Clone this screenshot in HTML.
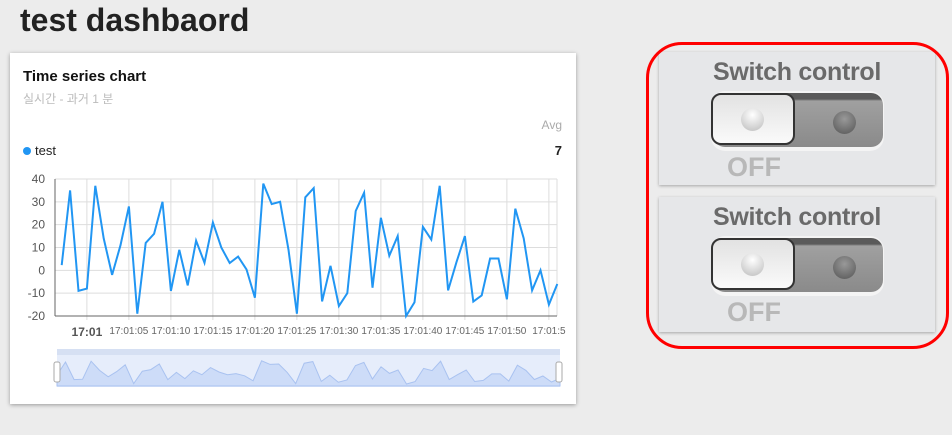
<!DOCTYPE html>
<html><head><meta charset="utf-8"><style>
body{margin:0;width:952px;height:435px;background:#ececec;font-family:"Liberation Sans","Noto Sans CJK KR",sans-serif;position:relative;overflow:hidden}
.abs{position:absolute}
.card{left:10px;top:53px;width:566px;height:351px;background:#fff;box-shadow:0 1px 4px rgba(0,0,0,.35)}
.panel{background:#e6e7e9;box-shadow:0 1px 3px rgba(0,0,0,.3);width:276px;left:659px}
.ptitle{position:absolute;left:0;width:100%;text-align:center;font-size:25px;color:#6a6a6a;top:6px;font-weight:bold;letter-spacing:-0.3px}
.sw{position:absolute;left:52px;top:39px;width:173px;height:60px;border-radius:14px;background:#f4f4f4}
.track{position:absolute;left:2px;top:2px;width:170px;height:54px;border-radius:12px;background:linear-gradient(#5a5a5a 0 6px,#a0a0a0 8px,#8a8a8a)}
.knob{position:absolute;left:0;top:2px;width:84px;height:52px;border-radius:10px;background:linear-gradient(#e2e2e2,#fafafa);border:2px solid #333;box-sizing:border-box}
.dot{position:absolute;width:23px;height:23px;border-radius:50%}
.off{position:absolute;left:68px;font-size:27px;color:#b8b8b8;font-weight:bold}
</style></head><body>
<div class="abs" style="left:20px;top:2px;font-size:32px;font-weight:bold;color:#222">test dashbaord</div>
<div class="abs card">
 <div class="abs" style="left:13px;top:15px;font-size:15px;color:#111;font-weight:bold">Time series chart</div>
 <div class="abs" style="left:13px;top:37px;font-size:12px;color:#bbb">실시간 - 과거 1 분</div>
 <div class="abs" style="right:14px;top:65px;font-size:12px;color:#aaa">Avg</div>
 <div class="abs" style="left:13px;top:90px;font-size:13px;color:#222"><span style="display:inline-block;width:8px;height:8px;border-radius:50%;background:#2196f3;margin-right:4px"></span>test</div>
 <div class="abs" style="right:14px;top:90px;font-size:13px;font-weight:bold;color:#222">7</div>
</div>
<svg class="abs" style="left:0;top:0" width="952" height="435">
 <g id="grid"></g><g id="axes"></g><path id="line" fill="none" stroke="#2196f3" stroke-width="2"/>
 <g id="nav"></g>
</svg>
<div class="abs panel" style="top:52px;height:133px">
 <div class="ptitle">Switch control</div>
 <div class="sw"><div class="track"><div class="dot" style="left:120px;top:18px;background:radial-gradient(circle at 50% 35%,#999,#555)"></div></div><div class="knob"><div class="dot" style="left:28px;top:13px;background:radial-gradient(circle at 50% 30%,#fff,#bbb)"></div></div></div>
 <div class="off" style="top:100px">OFF</div>
</div>
<div class="abs panel" style="top:197px;height:135px">
 <div class="ptitle">Switch control</div>
 <div class="sw"><div class="track"><div class="dot" style="left:120px;top:18px;background:radial-gradient(circle at 50% 35%,#999,#555)"></div></div><div class="knob"><div class="dot" style="left:28px;top:13px;background:radial-gradient(circle at 50% 30%,#fff,#bbb)"></div></div></div>
 <div class="off" style="top:100px">OFF</div>
</div>
<div class="abs" style="left:646px;top:42px;width:297px;height:301px;border:3px solid #f00;border-radius:36px"></div>
<script>
const values=[2.3,35,-9,-8,37,14,-2,11,28,-19,12,16,30,-9,9,-6.6,13,3.3,21,10,3.2,6,0.4,-12,38,29,30,9,-19,32,36,-13.6,2,-15.6,-10,26,34,-7.6,23,6.4,15,-20,-14,19,13.5,37,-8.8,3.6,15,-13.7,-11,5.2,5.2,-12.7,27,14,-8.8,0,-15,-6];
const yTicks=[40,30,20,10,0,-10,-20];
const xTickSec=[5,10,15,20,25,30,35,40,45,50,55];
const xTickLabels=["17:01:05","17:01:10","17:01:15","17:01:20","17:01:25","17:01:30","17:01:35","17:01:40","17:01:45","17:01:50","17:01:5"];
const NS='http://www.w3.org/2000/svg';
const x=i=>61.7+i*8.4;
const xs=s=>x(s+3);
const y=v=>179+(40-v)*137/60;
function mk(t,a,p){const e=document.createElementNS(NS,t);for(const k in a)e.setAttribute(k,a[k]);p.appendChild(e);return e;}
const grid=document.getElementById('grid'),axes=document.getElementById('axes');
yTicks.forEach(v=>{
 const l=mk('line',{x1:55,x2:557,y1:y(v),y2:y(v),stroke:'#ddd'},grid);
 
 
 const t=mk('text',{x:45,y:y(v)+4,'text-anchor':'end','font-size':12,fill:'#555'},axes);t.textContent=v;
 
 
});
[0].concat(xTickSec).forEach(s=>{mk('line',{x1:xs(s),x2:xs(s),y1:179,y2:320,stroke:'#ddd'},grid);});
mk('line',{x1:557,x2:557,y1:179,y2:316,stroke:'#ddd'},grid);
mk('line',{x1:55,x2:55,y1:179,y2:316,stroke:'#666'},axes);
mk('line',{x1:55,x2:557,y1:316,y2:316,stroke:'#666'},axes);
let t0=mk('text',{x:xs(0),y:336,'text-anchor':'middle','font-size':12,'font-weight':'bold',fill:'#555'},axes);t0.textContent='17:01';


xTickSec.forEach((s,i)=>{const t=mk('text',{x:xs(s),y:334,'text-anchor':'middle','font-size':10,fill:'#666'},axes);t.textContent=xTickLabels[i];
 
 });
document.getElementById('line').setAttribute('d',values.map((v,i)=>(i?'L':'M')+x(i).toFixed(1)+','+y(v).toFixed(1)).join(''));
const nav=document.getElementById('nav');
const nx=i=>57+i*(503/59), ny=v=>360+(40-v)*24/60;
mk('rect',{x:57,y:349,width:503,height:38,fill:'#e6edfb'},nav);
mk('rect',{x:57,y:349,width:503,height:6,fill:'#d6e0f3'},nav);
const area=mk('path',{d:'M57,386'+values.map((v,i)=>'L'+nx(i).toFixed(1)+','+ny(v).toFixed(1)).join('')+'L560,386Z',fill:'#cddcf8',stroke:'#a9c2f0'},nav);


[[54,362],[556,362]].forEach(([hx,hy])=>{const h=mk('rect',{x:hx,y:hy,width:6,height:20,rx:2,fill:'#fff',stroke:'#aaa'},nav);
 
 });
</script>
</body></html>
